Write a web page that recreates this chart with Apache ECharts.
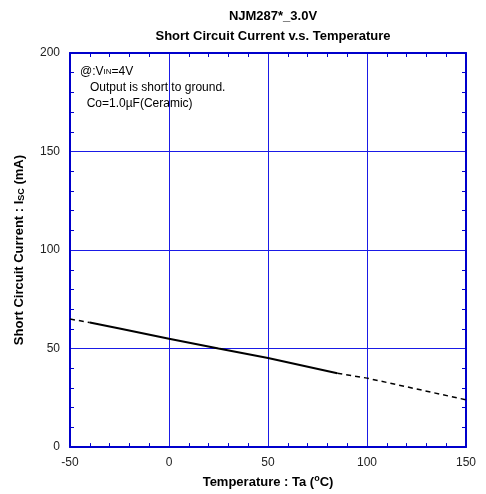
<!DOCTYPE html>
<html>
<head>
<meta charset="utf-8">
<script src="https://cdn.jsdelivr.net/npm/echarts@6/dist/echarts.min.js"></script>
<style>html,body{margin:0;padding:0;background:#fff}#c{width:486px;height:494px}</style>
</head>
<body>
<div id="c"></div>
<script>
const solidTemps = [-40, -25, 0, 25, 50, 85];
const solidIsc   = [63.2, 60.2, 55.0, 50.0, 45.2, 37.5];
const dashTemps  = [-50, -40, null, 85, 100, 125, 150];
const dashIsc    = [65.0, 63.2, null, 37.5, 35.0, 29.5, 24.0];
const xTicks = [-50, 0, 50, 100, 150];
const yTicks = [0, 50, 100, 150, 200];

const pair = (xs, ys) => xs.map((x, i) => x === null ? [null, null] : [x, ys[i]]);
const font = '"Liberation Sans", Arial, sans-serif';
const blue = '#0000cc';
const gridBlue = '#1a1ae6';

const chart = echarts.init(document.getElementById('c'));
const xBase = {
  type: 'value', min: -50, max: 150, interval: 50,
  axisLine: {show: true, onZero: false, lineStyle: {color: blue, width: 2}},
  axisTick: {show: false, inside: true},
  minorTick: {show: true, splitNumber: 5, length: 4, lineStyle: {color: blue, width: 1}},
  splitLine: {show: false}
};
const yBase = {
  type: 'value', min: 0, max: 200, interval: 50,
  axisLine: {show: true, onZero: false, lineStyle: {color: blue, width: 2}},
  axisTick: {show: false, inside: true},
  minorTick: {show: true, splitNumber: 5, length: 4, lineStyle: {color: blue, width: 1}},
  splitLine: {show: false}
};
chart.setOption({
  animation: false,
  title: {
    text: 'NJM287*_3.0V\nShort Circuit Current v.s. Temperature',
    left: 268, top: 1, textAlign: 'center',
    textStyle: {fontFamily: font, fontSize: 13, fontWeight: 'bold', color: '#000', lineHeight: 20}
  },
  grid: {left: 70, right: 20, top: 53, bottom: 46},
  xAxis: [
    Object.assign({}, xBase, {
      position: 'bottom',
      axisLabel: {show: true, margin: 10, fontFamily: font, fontSize: 12, color: '#222',
        formatter: v => xTicks.includes(v) ? String(v) : ''},
      splitLine: {show: true, lineStyle: {color: gridBlue, width: 1}},
      name: '{b|Temperature : Ta (}{s|o}{b|C)}',
      nameLocation: 'middle', nameGap: 26,
      nameTextStyle: {rich: {
        b: {fontFamily: font, fontSize: 13, fontWeight: 'bold', color: '#000'},
        s: {fontFamily: font, fontSize: 9, fontWeight: 'bold', color: '#000', verticalAlign: 'top', padding: [0, 0, 8, 0]}
      }}
    }),
    Object.assign({}, xBase, {position: 'top', axisLabel: {show: false}})
  ],
  yAxis: [
    Object.assign({}, yBase, {
      position: 'left',
      axisLabel: {show: true, margin: 10, fontFamily: font, fontSize: 12, color: '#222',
        formatter: v => yTicks.includes(v) ? String(v) : ''},
      splitLine: {show: true, lineStyle: {color: gridBlue, width: 1}},
      name: '{b|Short Circuit Current : I}{s|SC}{b| (mA)}',
      nameLocation: 'middle', nameGap: 44,
      nameTextStyle: {rich: {
        b: {fontFamily: font, fontSize: 13, fontWeight: 'bold', color: '#000'},
        s: {fontFamily: font, fontSize: 9, fontWeight: 'bold', color: '#000', verticalAlign: 'bottom'}
      }}
    }),
    Object.assign({}, yBase, {position: 'right', axisLabel: {show: false}})
  ],
  graphic: [{
    type: 'text', left: 80, top: 66,
    style: {
      text: '{n|@:V}{s|IN}{n|=4V}\n{n|   Output is short to ground.}\n{n|  Co=1.0µF(Ceramic)}',
      rich: {
        n: {fontFamily: font, fontSize: 12, color: '#000', lineHeight: 16},
        s: {fontFamily: font, fontSize: 8, color: '#000', lineHeight: 16}
      }
    }
  }],
  series: [
    {type: 'line', data: pair(dashTemps, dashIsc), showSymbol: false, connectNulls: false,
     lineStyle: {color: '#000', width: 1.5, type: [5, 4]}},
    {type: 'line', data: pair(solidTemps, solidIsc), showSymbol: false,
     lineStyle: {color: '#000', width: 2}}
  ]
});
</script>
</body>
</html>
